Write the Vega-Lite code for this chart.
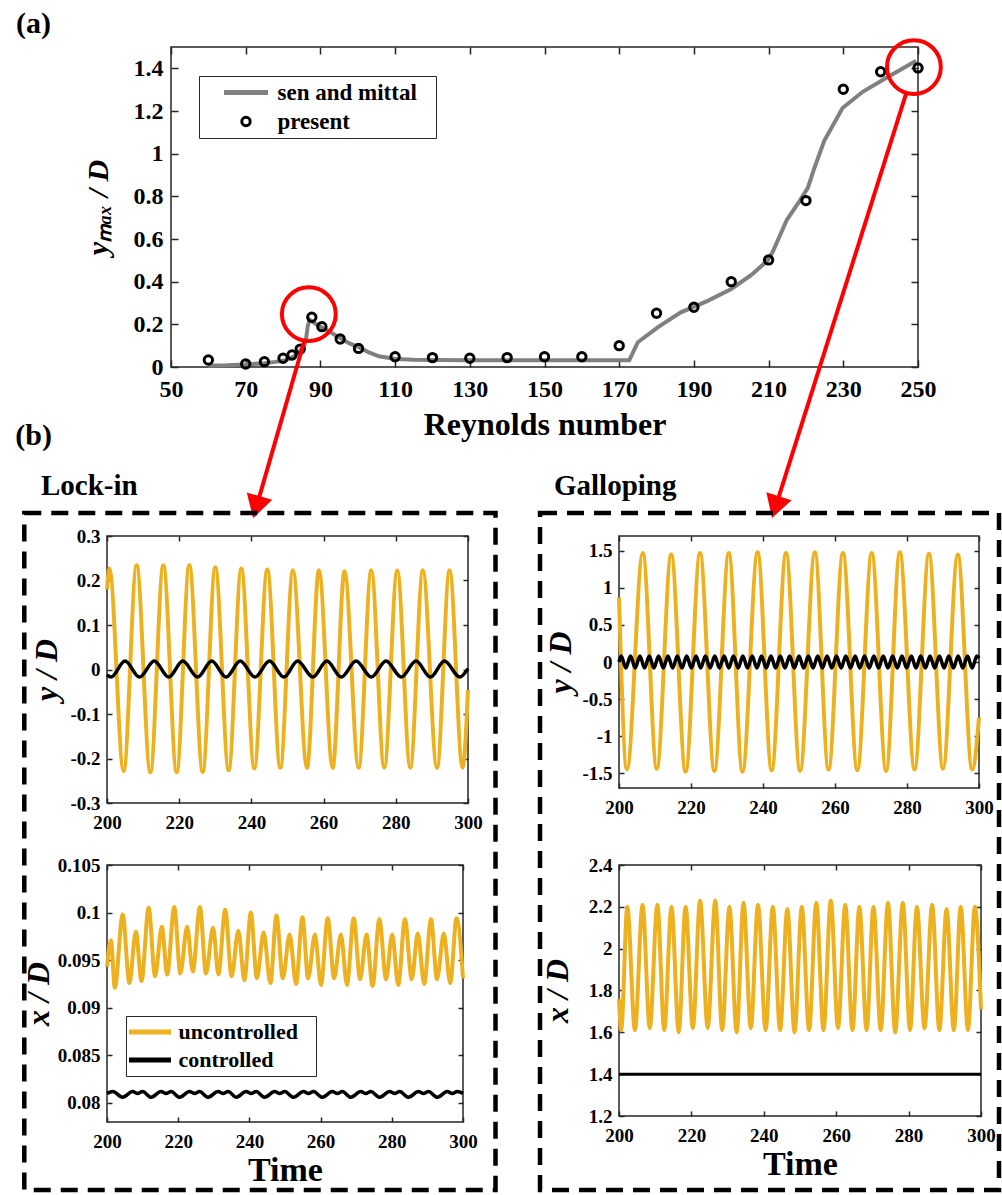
{
"$schema": "https://vega.github.io/schema/vega-lite/v6.json",
"background": "white",
"padding": {"left": 15, "top": 8, "right": 0, "bottom": 0},
"columns": 1,
"align": "none",
"spacing": -99,
"resolve": {"scale": {"color": "independent"}, "legend": {"color": "independent"}},
"config": {
  "font": "Liberation Serif",
  "view": {"stroke": "#262626", "strokeWidth": 1.5},
  "axis": {"domain": false, "grid": false, "tickColor": "#262626", "tickWidth": 1.5, "labelFont": "Liberation Serif", "labelFontWeight": "bold", "labelColor": "#000000", "titleFont": "Liberation Serif", "titleFontWeight": "bold", "titleColor": "#000000", "labelFlush": false, "labelOverlap": false},
  "title": {"font": "Liberation Serif", "fontWeight": "bold", "color": "#000000"},
  "legend": {"labelFont": "Liberation Serif", "labelFontWeight": "bold", "labelColor": "#000000"}
},
"datasets": {
  "sen": [{"Re":60,"ymax":0.006},{"Re":65,"ymax":0.008},{"Re":70,"ymax":0.012},{"Re":75,"ymax":0.018},{"Re":78,"ymax":0.024},{"Re":80.3,"ymax":0.03},{"Re":82.5,"ymax":0.045},{"Re":84.5,"ymax":0.075},{"Re":85.6,"ymax":0.1},{"Re":86.1,"ymax":0.123},{"Re":86.6,"ymax":0.19},{"Re":87.1,"ymax":0.222},{"Re":88.5,"ymax":0.205},{"Re":90.4,"ymax":0.185},{"Re":92.5,"ymax":0.165},{"Re":95,"ymax":0.139},{"Re":97.5,"ymax":0.113},{"Re":100.4,"ymax":0.092},{"Re":103,"ymax":0.068},{"Re":105.7,"ymax":0.05},{"Re":110.1,"ymax":0.038},{"Re":115,"ymax":0.034},{"Re":120,"ymax":0.033},{"Re":130,"ymax":0.032},{"Re":140,"ymax":0.032},{"Re":150,"ymax":0.032},{"Re":160,"ymax":0.032},{"Re":172.7,"ymax":0.032},{"Re":175,"ymax":0.116},{"Re":180.3,"ymax":0.186},{"Re":186.5,"ymax":0.256},{"Re":193.7,"ymax":0.31},{"Re":200,"ymax":0.366},{"Re":205.3,"ymax":0.43},{"Re":209.8,"ymax":0.5},{"Re":211.1,"ymax":0.54},{"Re":214.9,"ymax":0.69},{"Re":218,"ymax":0.77},{"Re":220.5,"ymax":0.84},{"Re":222.2,"ymax":0.93},{"Re":224.9,"ymax":1.06},{"Re":229.8,"ymax":1.214},{"Re":235.2,"ymax":1.29},{"Re":241,"ymax":1.35},{"Re":249.5,"ymax":1.436}],
  "present": [{"Re":60,"ymax":0.033},{"Re":70,"ymax":0.014},{"Re":75,"ymax":0.025},{"Re":80,"ymax":0.041},{"Re":82.4,"ymax":0.056},{"Re":84.6,"ymax":0.084},{"Re":87.7,"ymax":0.233},{"Re":90.4,"ymax":0.189},{"Re":95.3,"ymax":0.131},{"Re":100.2,"ymax":0.087},{"Re":110,"ymax":0.048},{"Re":120,"ymax":0.044},{"Re":130,"ymax":0.041},{"Re":140,"ymax":0.044},{"Re":150,"ymax":0.048},{"Re":160,"ymax":0.048},{"Re":170,"ymax":0.1},{"Re":180,"ymax":0.252},{"Re":190,"ymax":0.28},{"Re":200,"ymax":0.4},{"Re":210,"ymax":0.502},{"Re":220,"ymax":0.78},{"Re":230,"ymax":1.302},{"Re":240,"ymax":1.384},{"Re":250,"ymax":1.402}],
  "circles": [{"Re":86.9,"ymax":0.248},{"Re":248.9,"ymax":1.406}],
  "arrows": [{"Re":85.61,"ymax":0.117,"Re2":72.85,"ymax2":-0.657},{"Re":246.8,"ymax":1.28,"Re2":211.85,"ymax2":-0.657}],
  "lky_u": [{"t":200,"v":0.18},{"t":200.65,"v":0.227},{"t":204.6,"v":-0.228},{"t":208.2,"v":0.234},{"t":212.0,"v":-0.231},{"t":215.6,"v":0.234},{"t":219.3,"v":-0.231},{"t":222.8,"v":0.234},{"t":226.5,"v":-0.23},{"t":230.0,"v":0.23},{"t":233.7,"v":-0.226},{"t":237.2,"v":0.227},{"t":240.8,"v":-0.222},{"t":244.4,"v":0.225},{"t":248.0,"v":-0.221},{"t":251.5,"v":0.223},{"t":255.4,"v":-0.221},{"t":258.7,"v":0.223},{"t":262.5,"v":-0.221},{"t":265.8,"v":0.221},{"t":269.7,"v":-0.221},{"t":273.2,"v":0.223},{"t":276.8,"v":-0.221},{"t":280.4,"v":0.223},{"t":284.0,"v":-0.221},{"t":287.5,"v":0.223},{"t":291.4,"v":-0.221},{"t":294.9,"v":0.223},{"t":298.5,"v":-0.221},{"t":300,"v":-0.046}],
  "lky_c": [{"t":200,"v":-0.012},{"t":201.1,"v":-0.017},{"t":205.0,"v":0.019},{"t":209.0,"v":-0.017},{"t":213.1,"v":0.019},{"t":217.1,"v":-0.017},{"t":221.0,"v":0.019},{"t":225.1,"v":-0.017},{"t":229.0,"v":0.019},{"t":233.0,"v":-0.017},{"t":236.9,"v":0.019},{"t":241.0,"v":-0.017},{"t":245.0,"v":0.019},{"t":249.0,"v":-0.017},{"t":252.8,"v":0.019},{"t":257.0,"v":-0.017},{"t":260.9,"v":0.019},{"t":264.9,"v":-0.017},{"t":269.0,"v":0.019},{"t":273.2,"v":-0.017},{"t":277.3,"v":0.019},{"t":281.5,"v":-0.017},{"t":285.6,"v":0.019},{"t":289.6,"v":-0.017},{"t":293.5,"v":0.019},{"t":297.7,"v":-0.017},{"t":300,"v":0.002}],
  "lkx_u": [{"t":200,"v":0.0943},{"t":201.1,"v":0.0971},{"t":202.2,"v":0.0921},{"t":204.4,"v":0.0998},{"t":206.3,"v":0.0926},{"t":208.1,"v":0.098},{"t":209.7,"v":0.0928},{"t":211.7,"v":0.1005},{"t":213.5,"v":0.0933},{"t":215.4,"v":0.0985},{"t":216.9,"v":0.0935},{"t":218.9,"v":0.1006},{"t":220.6,"v":0.0936},{"t":222.5,"v":0.0985},{"t":224.1,"v":0.0938},{"t":226.1,"v":0.1006},{"t":227.8,"v":0.0936},{"t":229.8,"v":0.0984},{"t":231.3,"v":0.0935},{"t":233.2,"v":0.1003},{"t":235.0,"v":0.0933},{"t":236.9,"v":0.0981},{"t":238.6,"v":0.0929},{"t":240.4,"v":0.1},{"t":242.1,"v":0.0931},{"t":244.0,"v":0.0979},{"t":245.9,"v":0.0926},{"t":247.6,"v":0.0997},{"t":249.4,"v":0.0931},{"t":251.3,"v":0.0977},{"t":253.1,"v":0.0925},{"t":254.9,"v":0.0995},{"t":256.5,"v":0.0931},{"t":258.4,"v":0.0977},{"t":260.1,"v":0.0924},{"t":262.0,"v":0.0994},{"t":263.8,"v":0.0931},{"t":265.7,"v":0.0977},{"t":267.4,"v":0.0924},{"t":269.3,"v":0.0994},{"t":271.1,"v":0.093},{"t":272.9,"v":0.0977},{"t":274.6,"v":0.0923},{"t":276.5,"v":0.0993},{"t":278.4,"v":0.093},{"t":280.1,"v":0.0977},{"t":281.8,"v":0.0924},{"t":283.7,"v":0.0993},{"t":285.6,"v":0.093},{"t":287.3,"v":0.0978},{"t":289.1,"v":0.0925},{"t":291.0,"v":0.0993},{"t":292.7,"v":0.093},{"t":294.6,"v":0.0978},{"t":296.4,"v":0.0926},{"t":298.2,"v":0.0994},{"t":300,"v":0.0931}],
  "lkx_c": [{"t":200.0,"v":0.081},{"t":201.6,"v":0.0812},{"t":204.4,"v":0.0806},{"t":207.2,"v":0.0812},{"t":208.6,"v":0.081},{"t":210.0,"v":0.0812},{"t":212.4,"v":0.0806},{"t":215.2,"v":0.0812},{"t":216.6,"v":0.081},{"t":218.0,"v":0.0812},{"t":220.4,"v":0.0806},{"t":223.2,"v":0.0812},{"t":224.6,"v":0.081},{"t":226.0,"v":0.0812},{"t":228.4,"v":0.0806},{"t":231.2,"v":0.0812},{"t":232.6,"v":0.081},{"t":234.0,"v":0.0812},{"t":236.3,"v":0.0806},{"t":239.1,"v":0.0812},{"t":240.5,"v":0.081},{"t":241.9,"v":0.0812},{"t":244.3,"v":0.0806},{"t":247.1,"v":0.0812},{"t":248.5,"v":0.081},{"t":249.9,"v":0.0812},{"t":252.4,"v":0.0806},{"t":255.2,"v":0.0812},{"t":256.6,"v":0.081},{"t":258.0,"v":0.0812},{"t":260.5,"v":0.0806},{"t":263.3,"v":0.0812},{"t":264.7,"v":0.081},{"t":266.1,"v":0.0812},{"t":268.5,"v":0.0806},{"t":271.3,"v":0.0812},{"t":272.7,"v":0.081},{"t":274.1,"v":0.0812},{"t":276.6,"v":0.0806},{"t":279.4,"v":0.0812},{"t":280.8,"v":0.081},{"t":282.2,"v":0.0812},{"t":284.7,"v":0.0806},{"t":287.5,"v":0.0812},{"t":288.9,"v":0.081},{"t":290.3,"v":0.0812},{"t":292.8,"v":0.0806},{"t":295.6,"v":0.0812},{"t":297.0,"v":0.081},{"t":298.4,"v":0.0812},{"t":300.0,"v":0.081}],
  "gy_u": [{"t":200,"v":0.87},{"t":202.2,"v":-1.45},{"t":206.6,"v":1.47},{"t":210.5,"v":-1.44},{"t":214.5,"v":1.45},{"t":218.5,"v":-1.48},{"t":222.5,"v":1.47},{"t":226.5,"v":-1.47},{"t":230.5,"v":1.47},{"t":234.3,"v":-1.48},{"t":238.5,"v":1.48},{"t":242.4,"v":-1.46},{"t":246.4,"v":1.47},{"t":250.3,"v":-1.47},{"t":254.4,"v":1.48},{"t":258.2,"v":-1.45},{"t":262.2,"v":1.47},{"t":266.2,"v":-1.46},{"t":270.2,"v":1.47},{"t":274.2,"v":-1.47},{"t":278.0,"v":1.48},{"t":282.1,"v":-1.45},{"t":286.1,"v":1.46},{"t":290.0,"v":-1.44},{"t":294.1,"v":1.45},{"t":298.1,"v":-1.45},{"t":300,"v":-0.75}],
  "gy_c": [{"t":200,"v":0.0},{"t":200.6,"v":0.08},{"t":201.9,"v":-0.08},{"t":203.2,"v":0.08},{"t":204.5,"v":-0.08},{"t":205.8,"v":0.08},{"t":207.1,"v":-0.08},{"t":208.4,"v":0.08},{"t":209.7,"v":-0.08},{"t":211.0,"v":0.08},{"t":212.3,"v":-0.08},{"t":213.6,"v":0.08},{"t":214.9,"v":-0.08},{"t":216.2,"v":0.08},{"t":217.5,"v":-0.08},{"t":218.8,"v":0.08},{"t":220.1,"v":-0.08},{"t":221.4,"v":0.08},{"t":222.7,"v":-0.08},{"t":224.0,"v":0.08},{"t":225.3,"v":-0.08},{"t":226.6,"v":0.08},{"t":227.9,"v":-0.08},{"t":229.2,"v":0.08},{"t":230.5,"v":-0.08},{"t":231.8,"v":0.08},{"t":233.1,"v":-0.08},{"t":234.4,"v":0.08},{"t":235.7,"v":-0.08},{"t":237.0,"v":0.08},{"t":238.3,"v":-0.08},{"t":239.6,"v":0.08},{"t":240.9,"v":-0.08},{"t":242.2,"v":0.08},{"t":243.5,"v":-0.08},{"t":244.8,"v":0.08},{"t":246.1,"v":-0.08},{"t":247.4,"v":0.08},{"t":248.7,"v":-0.08},{"t":250.0,"v":0.08},{"t":251.3,"v":-0.08},{"t":252.6,"v":0.08},{"t":253.9,"v":-0.08},{"t":255.2,"v":0.08},{"t":256.5,"v":-0.08},{"t":257.8,"v":0.08},{"t":259.1,"v":-0.08},{"t":260.4,"v":0.08},{"t":261.7,"v":-0.08},{"t":263.0,"v":0.08},{"t":264.3,"v":-0.08},{"t":265.6,"v":0.08},{"t":266.9,"v":-0.08},{"t":268.2,"v":0.08},{"t":269.5,"v":-0.08},{"t":270.8,"v":0.08},{"t":272.1,"v":-0.08},{"t":273.4,"v":0.08},{"t":274.7,"v":-0.08},{"t":276.0,"v":0.08},{"t":277.3,"v":-0.08},{"t":278.6,"v":0.08},{"t":279.9,"v":-0.08},{"t":281.2,"v":0.08},{"t":282.5,"v":-0.08},{"t":283.8,"v":0.08},{"t":285.1,"v":-0.08},{"t":286.4,"v":0.08},{"t":287.7,"v":-0.08},{"t":289.0,"v":0.08},{"t":290.3,"v":-0.08},{"t":291.6,"v":0.08},{"t":292.9,"v":-0.08},{"t":294.2,"v":0.08},{"t":295.5,"v":-0.08},{"t":296.8,"v":0.08},{"t":298.1,"v":-0.08},{"t":299.4,"v":0.08},{"t":300,"v":0.05}],
  "gx_u": [{"t":200,"v":1.76},{"t":200.6,"v":1.61},{"t":202.3,"v":2.2},{"t":204.4,"v":1.61},{"t":206.5,"v":2.21},{"t":208.5,"v":1.62},{"t":210.6,"v":2.21},{"t":212.5,"v":1.61},{"t":214.5,"v":2.2},{"t":216.5,"v":1.6},{"t":218.4,"v":2.2},{"t":220.4,"v":1.62},{"t":222.4,"v":2.23},{"t":224.5,"v":1.62},{"t":226.6,"v":2.23},{"t":228.5,"v":1.61},{"t":230.5,"v":2.2},{"t":232.5,"v":1.6},{"t":234.4,"v":2.22},{"t":236.4,"v":1.62},{"t":238.4,"v":2.21},{"t":240.5,"v":1.61},{"t":242.5,"v":2.2},{"t":244.5,"v":1.61},{"t":246.5,"v":2.19},{"t":248.5,"v":1.6},{"t":250.5,"v":2.2},{"t":252.5,"v":1.61},{"t":254.5,"v":2.22},{"t":256.5,"v":1.61},{"t":258.5,"v":2.23},{"t":260.5,"v":1.62},{"t":262.5,"v":2.21},{"t":264.5,"v":1.61},{"t":266.4,"v":2.2},{"t":268.4,"v":1.61},{"t":270.3,"v":2.2},{"t":272.3,"v":1.61},{"t":274.3,"v":2.22},{"t":276.3,"v":1.6},{"t":278.4,"v":2.22},{"t":280.4,"v":1.61},{"t":282.3,"v":2.2},{"t":284.4,"v":1.62},{"t":286.5,"v":2.21},{"t":288.5,"v":1.61},{"t":290.5,"v":2.19},{"t":292.5,"v":1.61},{"t":294.4,"v":2.2},{"t":296.4,"v":1.61},{"t":298.3,"v":2.2},{"t":300,"v":1.71}],
  "gx_c": [{"t":200,"v":1.4},{"t":300,"v":1.4}]
},
"concat": [
  {
    "bounds": "flush",
    "spacing": 63,
    "resolve": {"scale": {"color": "independent"}, "legend": {"color": "independent"}},
    "hconcat": [
      {"width": 1, "height": 1, "view": {"stroke": null}, "data": {"values": [{}]}, "mark": {"type": "point", "opacity": 0}},
      {
        "title": {"text": "(a)", "anchor": "start", "frame": "group", "dx": -155, "offset": -7, "fontSize": 30},
        "width": 747, "height": 320,
        "resolve": {"axis": {"x": "independent", "y": "independent"}},
        "layer": [
          {"data": {"name": "sen"}, "mark": {"type": "line", "strokeWidth": 4},
           "encoding": {
             "x": {"field": "Re", "type": "quantitative", "scale": {"domain": [50, 250], "nice": false, "zero": false},
                   "axis": {"orient": "bottom", "values": [50,70,90,110,130,150,170,190,210,230,250], "title": "Reynolds number", "titleFontSize": 32, "labelFontSize": 24, "tickSize": -7, "labelPadding": 17, "titlePadding": 8, "labelExpr": "format(datum.value, '~g')"}},
             "y": {"field": "ymax", "type": "quantitative", "scale": {"domain": [0, 1.5], "nice": false, "zero": false},
                   "axis": {"orient": "left", "values": [0,0.2,0.4,0.6,0.8,1,1.2,1.4], "title": "yₘₐₓ / D", "titleFontSize": 30, "titleFontStyle": "italic", "labelFontSize": 24, "tickSize": -7, "labelPadding": 15, "titlePadding": 20, "labelExpr": "format(datum.value, '~g')"}},
             "color": {"datum": "sen and mittal", "type": "nominal", "scale": {"domain": ["sen and mittal", "present"], "range": ["#808080", "#000000"]},
                       "legend": {"orient": "none", "legendX": 28, "legendY": 29, "title": null, "direction": "vertical",
                                  "strokeColor": "#262626", "fillColor": "white", "padding": 2, "rowPadding": 0,
                                  "symbolType": "stroke", "symbolSize": 1936, "symbolStrokeWidth": 5, "symbolOffset": 33.5, "labelOffset": 20, "clipHeight": 29,
                                  "labelFontSize": 23, "labelExpr": "datum.label + '\u2800'",
                                  "encode": {"symbols": {"update": {
                                     "shape": {"signal": "datum.value === 'present' ? 'circle' : 'stroke'"},
                                     "size": {"signal": "datum.value === 'present' ? 70 : 1936"},
                                     "strokeWidth": {"signal": "datum.value === 'present' ? 3 : 5"},
                                     "stroke": {"signal": "datum.value === 'present' ? '#000000' : '#808080'"},
                                     "fill": {"value": "transparent"},
                                     "opacity": {"value": 1}}}}}}
           }},
          {"data": {"name": "present"}, "mark": {"type": "point", "filled": false, "size": 70, "strokeWidth": 3, "opacity": 1},
           "encoding": {
             "x": {"field": "Re", "type": "quantitative", "axis": {"orient": "top", "values": [50,70,90,110,130,150,170,190,210,230,250], "labels": false, "title": null, "tickSize": -7}},
             "y": {"field": "ymax", "type": "quantitative", "axis": {"orient": "right", "values": [0,0.2,0.4,0.6,0.8,1,1.2,1.4], "labels": false, "title": null, "tickSize": -7}},
             "color": {"datum": "present", "type": "nominal"}
           }},
          {"data": {"name": "circles"}, "mark": {"type": "point", "filled": false, "size": 2900, "strokeWidth": 4, "color": "#FF0000", "opacity": 1},
           "encoding": {"x": {"field": "Re", "type": "quantitative", "axis": null}, "y": {"field": "ymax", "type": "quantitative", "axis": null}}},
          {"data": {"name": "arrows"}, "mark": {"type": "rule", "strokeWidth": 4, "color": "#FF0000"},
           "encoding": {"x": {"field": "Re", "type": "quantitative", "axis": null}, "y": {"field": "ymax", "type": "quantitative", "axis": null}, "x2": {"field": "Re2"}, "y2": {"field": "ymax2"}}},
          {"data": {"values": [{"Re": 72.85, "ymax": -0.657}]}, "mark": {"type": "point", "shape": "triangle-down", "filled": true, "size": 700, "angle": 16, "color": "#FF0000", "opacity": 1, "strokeWidth": 0},
           "encoding": {"x": {"field": "Re", "type": "quantitative", "axis": null}, "y": {"field": "ymax", "type": "quantitative", "axis": null}}},
          {"data": {"values": [{"Re": 211.85, "ymax": -0.657}]}, "mark": {"type": "point", "shape": "triangle-down", "filled": true, "size": 700, "angle": 17.5, "color": "#FF0000", "opacity": 1, "strokeWidth": 0},
           "encoding": {"x": {"field": "Re", "type": "quantitative", "axis": null}, "y": {"field": "ymax", "type": "quantitative", "axis": null}}}
        ]
      }
    ]
  },
  {
    "title": {"text": "(b)", "anchor": "start", "frame": "bounds", "dx": -6, "offset": 20, "fontSize": 30},
    "bounds": "flush",
    "spacing": 512,
    "resolve": {"scale": {"color": "independent"}, "legend": {"color": "independent"}},
    "hconcat": [
      {
        "bounds": "flush",
        "spacing": 62,
        "resolve": {"scale": {"color": "independent"}, "legend": {"color": "independent"}},
        "vconcat": [
          {
            "title": {"text": "Lock-in", "anchor": "start", "frame": "group", "dx": -66, "offset": 10, "fontSize": 29},
            "width": 361, "height": 267,
            "resolve": {"axis": {"x": "independent", "y": "independent"}},
            "layer": [
              {"data": {"name": "lky_u"}, "mark": {"type": "line", "color": "#EDB120", "strokeWidth": 4, "interpolate": "monotone"},
               "encoding": {
                 "x": {"field": "t", "type": "quantitative", "scale": {"domain": [200, 300], "nice": false, "zero": false},
                       "axis": {"orient": "bottom", "values": [200,220,240,260,280,300], "title": null, "labelFontSize": 19, "tickSize": -5, "labelPadding": 15, "labelExpr": "format(datum.value, '~g')"}},
                 "y": {"field": "v", "type": "quantitative", "scale": {"domain": [-0.3, 0.3], "nice": false, "zero": false},
                       "axis": {"orient": "left", "values": [-0.3,-0.2,-0.1,0,0.1,0.2,0.3], "title": "y / D", "titleFontSize": 32, "titleFontStyle": "italic", "labelFontSize": 19, "tickSize": -5, "labelPadding": 12, "titlePadding": 6, "labelExpr": "replace(format(datum.value, '~g'), '−', '-')"}}
               }},
              {"data": {"name": "lky_c"}, "mark": {"type": "line", "color": "#000000", "strokeWidth": 3.5, "interpolate": "monotone"},
               "encoding": {
                 "x": {"field": "t", "type": "quantitative", "axis": {"orient": "top", "values": [200,220,240,260,280,300], "labels": false, "title": null, "tickSize": -5}},
                 "y": {"field": "v", "type": "quantitative", "axis": {"orient": "right", "values": [-0.3,-0.2,-0.1,0,0.1,0.2,0.3], "labels": false, "title": null, "tickSize": -5}}
               }},
              {"data": {"values": [{"t": 177.09, "t2": 307.62, "v": 0.3517, "v2": -1.1697}]},
               "mark": {"type": "rect", "fill": "transparent", "stroke": "#000000", "strokeWidth": 4.5, "strokeDash": [17, 10]},
               "encoding": {"x": {"field": "t", "type": "quantitative", "axis": null}, "x2": {"field": "t2"}, "y": {"field": "v", "type": "quantitative", "axis": null}, "y2": {"field": "v2"}}}
            ]
          },
          {
            "width": 356, "height": 257,
            "resolve": {"axis": {"x": "independent", "y": "independent"}},
            "layer": [
              {"data": {"name": "lkx_u"}, "mark": {"type": "line", "strokeWidth": 4, "interpolate": "monotone"},
               "encoding": {
                 "x": {"field": "t", "type": "quantitative", "scale": {"domain": [200, 300], "nice": false, "zero": false},
                       "axis": {"orient": "bottom", "values": [200,220,240,260,280,300], "title": "Time", "titleFontSize": 34, "titlePadding": 2, "labelFontSize": 19, "tickSize": -5, "labelPadding": 15, "labelExpr": "format(datum.value, '~g')"}},
                 "y": {"field": "v", "type": "quantitative", "scale": {"domain": [0.078, 0.105], "nice": false, "zero": false},
                       "axis": {"orient": "left", "values": [0.08,0.085,0.09,0.095,0.1,0.105], "title": "x / D", "titleFontSize": 32, "titleFontStyle": "italic", "labelFontSize": 19, "tickSize": -5, "labelPadding": 12, "titlePadding": 2, "labelExpr": "format(datum.value, '~g')"}},
                 "color": {"datum": "uncontrolled", "type": "nominal", "scale": {"domain": ["uncontrolled", "controlled"], "range": ["#EDB120", "#000000"]},
                           "legend": {"orient": "none", "legendX": 19, "legendY": 151, "title": null, "direction": "vertical",
                                      "strokeColor": "#262626", "fillColor": "white", "padding": 2, "rowPadding": 0,
                                      "symbolType": "stroke", "symbolSize": 1764, "symbolStrokeWidth": 5, "symbolOffset": -1.5, "labelOffset": 5, "clipHeight": 28,
                                      "labelFontSize": 22, "labelExpr": "datum.label + '\u2800'"}}
               }},
              {"data": {"name": "lkx_c"}, "mark": {"type": "line", "strokeWidth": 3.5, "interpolate": "monotone"},
               "encoding": {
                 "x": {"field": "t", "type": "quantitative", "axis": {"orient": "top", "values": [200,220,240,260,280,300], "labels": false, "title": null, "tickSize": -5}},
                 "y": {"field": "v", "type": "quantitative", "axis": {"orient": "right", "values": [0.08,0.085,0.09,0.095,0.1,0.105], "labels": false, "title": null, "tickSize": -5}},
                 "color": {"datum": "controlled", "type": "nominal"}
               }}
            ]
          }
        ]
      },
      {
        "bounds": "flush",
        "spacing": 77,
        "resolve": {"scale": {"color": "independent"}, "legend": {"color": "independent"}},
        "vconcat": [
          {
            "title": {"text": "Galloping", "anchor": "start", "frame": "group", "dx": -65, "offset": 10, "fontSize": 29},
            "width": 360, "height": 252,
            "resolve": {"axis": {"x": "independent", "y": "independent"}},
            "layer": [
              {"data": {"name": "gy_u"}, "mark": {"type": "line", "color": "#EDB120", "strokeWidth": 4, "interpolate": "monotone"},
               "encoding": {
                 "x": {"field": "t", "type": "quantitative", "scale": {"domain": [200, 300], "nice": false, "zero": false},
                       "axis": {"orient": "bottom", "values": [200,220,240,260,280,300], "title": null, "labelFontSize": 19, "tickSize": -5, "labelPadding": 15, "labelExpr": "format(datum.value, '~g')"}},
                 "y": {"field": "v", "type": "quantitative", "scale": {"domain": [-1.7, 1.7], "nice": false, "zero": false},
                       "axis": {"orient": "left", "values": [-1.5,-1,-0.5,0,0.5,1,1.5], "title": "y / D", "titleFontSize": 32, "titleFontStyle": "italic", "labelFontSize": 19, "tickSize": -5, "labelPadding": 12, "titlePadding": 4, "labelExpr": "replace(format(datum.value, '~g'), '−', '-')"}}
               }},
              {"data": {"name": "gy_c"}, "mark": {"type": "line", "color": "#000000", "strokeWidth": 3.5, "interpolate": "monotone"},
               "encoding": {
                 "x": {"field": "t", "type": "quantitative", "axis": {"orient": "top", "values": [200,220,240,260,280,300], "labels": false, "title": null, "tickSize": -5}},
                 "y": {"field": "v", "type": "quantitative", "axis": {"orient": "right", "values": [-1.5,-1,-0.5,0,0.5,1,1.5], "labels": false, "title": null, "tickSize": -5}}
               }},
              {"data": {"values": [{"t": 178.06, "t2": 305.56, "v": 2.01, "v2": -7.124}]},
               "mark": {"type": "rect", "fill": "transparent", "stroke": "#000000", "strokeWidth": 4.5, "strokeDash": [17, 10]},
               "encoding": {"x": {"field": "t", "type": "quantitative", "axis": null}, "x2": {"field": "t2"}, "y": {"field": "v", "type": "quantitative", "axis": null}, "y2": {"field": "v2"}}}
            ]
          },
          {
            "width": 362, "height": 251,
            "resolve": {"axis": {"x": "independent", "y": "independent"}},
            "layer": [
              {"data": {"name": "gx_u"}, "mark": {"type": "line", "color": "#EDB120", "strokeWidth": 4, "interpolate": "monotone"},
               "encoding": {
                 "x": {"field": "t", "type": "quantitative", "scale": {"domain": [200, 300], "nice": false, "zero": false},
                       "axis": {"orient": "bottom", "values": [200,220,240,260,280,300], "title": "Time", "titleFontSize": 34, "titlePadding": 2, "labelFontSize": 19, "tickSize": -5, "labelPadding": 15, "labelExpr": "format(datum.value, '~g')"}},
                 "y": {"field": "v", "type": "quantitative", "scale": {"domain": [1.2, 2.4], "nice": false, "zero": false},
                       "axis": {"orient": "left", "values": [1.2,1.4,1.6,1.8,2,2.2,2.4], "title": "x / D", "titleFontSize": 32, "titleFontStyle": "italic", "labelFontSize": 19, "tickSize": -5, "labelPadding": 12, "titlePadding": 14, "labelExpr": "format(datum.value, '~g')"}}
               }},
              {"data": {"name": "gx_c"}, "mark": {"type": "line", "color": "#000000", "strokeWidth": 3},
               "encoding": {
                 "x": {"field": "t", "type": "quantitative", "axis": {"orient": "top", "values": [200,220,240,260,280,300], "labels": false, "title": null, "tickSize": -5}},
                 "y": {"field": "v", "type": "quantitative", "axis": {"orient": "right", "values": [1.2,1.4,1.6,1.8,2,2.2,2.4], "labels": false, "title": null, "tickSize": -5}}
               }}
            ]
          }
        ]
      }
    ]
  }
]
}
